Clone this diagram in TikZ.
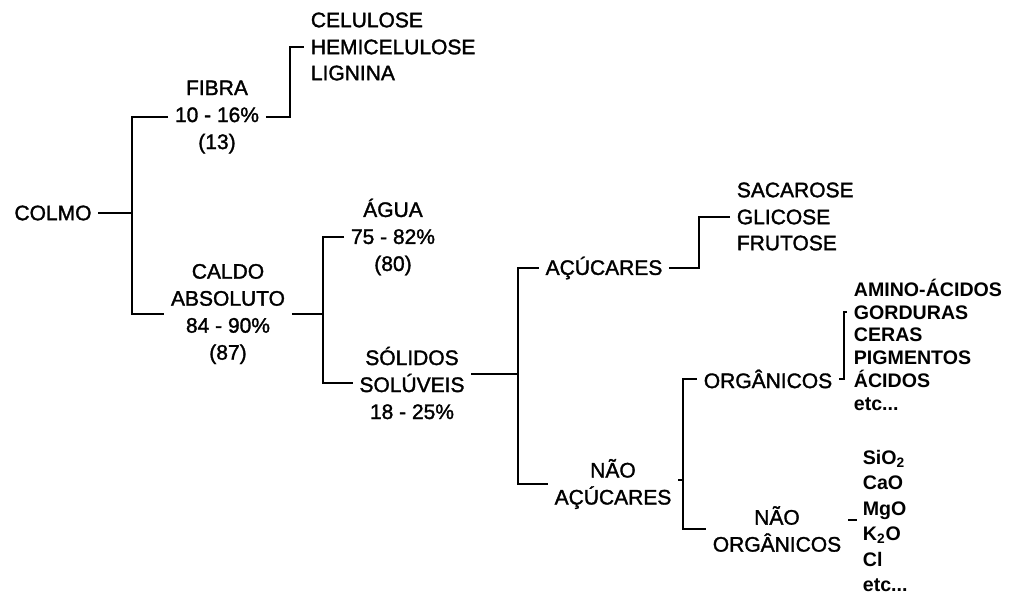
\documentclass[tikz,border=0pt]{standalone}
\usepackage{fontspec}
\setmainfont{Liberation Sans}[UprightFeatures={FakeBold=1.5}]
\usepackage{tikz}

\begin{document}
\begin{tikzpicture}[x=0.5pt,y=-0.5pt, line width=0.9pt,
  every node/.style={font=\fontsize{10.5}{13.5}\selectfont, inner xsep=3pt, inner ysep=1pt, align=center},
  leaf/.style={anchor=west},
  leafb/.style={anchor=west, font=\fontsize{9.8}{12}\selectfont\bfseries, text height=1.6ex, text depth=0.2ex}]
\useasboundingbox (0,0) rectangle (1017,595);
\node (colmo) at (53,213) {COLMO};
\node (fibra) at (217,117) {FIBRA\\10 - 16\%\\(13)};
\node (caldo) at (228,314) {CALDO\\ABSOLUTO\\84 - 90\%\\(87)};
\node (agua) at (393,237) {ÁGUA\\75 - 82\%\\(80)};
\node (solidos) at (412,383) {SÓLIDOS\\SOLÚVEIS\\18 - 25\%};
\node (acucar) at (604,268) {AÇÚCARES};
\node (naoacucar) at (613,484) {NÃO\\AÇÚCARES};
\node (org) at (768,379) {ORGÂNICOS};
\node (naoorg) at (777,529) {NÃO\\ORGÂNICOS};
\node[leaf] (cel) at (304,20) {CELULOSE};
\node[leaf] (hemi) at (304,47) {HEMICELULOSE};
\node[leaf] (lig) at (304,73) {LIGNINA};
\node[leaf] (sac) at (730,190) {SACAROSE};
\node[leaf] (gli) at (730,217) {GLICOSE};
\node[leaf] (fru) at (730,243) {FRUTOSE};
\node[leafb] (amino) at (847,289) {AMINO-ÁCIDOS};
\node[leafb] (gord) at (847,312) {GORDURAS};
\node[leafb] (ceras) at (847,334) {CERAS};
\node[leafb] (pigm) at (847,357) {PIGMENTOS};
\node[leafb] (acid) at (847,380) {ÁCIDOS};
\node[leafb] (etcorg) at (847,403) {etc...};
\node[leafb] (sio) at (856,457) {SiO\textsubscript{2}};
\node[leafb] (cao) at (856,482) {CaO};
\node[leafb] (mgo) at (856,508) {MgO};
\node[leafb] (kdo) at (856,533) {K\textsubscript{2}O};
\node[leafb] (cl) at (856,559) {Cl};
\node[leafb] (etcinorg) at (856,584) {etc...};
\coordinate (k1) at (132,213);
\coordinate (k2) at (290,47);
\coordinate (k3) at (323,314);
\coordinate (k4) at (518,374);
\coordinate (k5) at (699,217);
\coordinate (k6) at (683,480);
\coordinate (k7) at (844,312);
\coordinate (k8) at (857,520);
\draw (colmo.east) -- (k1);
\draw (fibra.west) -| (k1) |- (caldo.west);
\draw (fibra.east) -| (k2) -- (hemi.west);
\draw (caldo.east) -- (k3);
\draw (agua.west) -| (k3) |- (solidos.west);
\draw (solidos.east |- k4) -- (k4);
\draw (acucar.west) -| (k4) |- (naoacucar.west);
\draw (acucar.east) -| (k5) -- (gli.west);
\draw (naoacucar.east |- k6) -- (k6);
\draw (org.west) -| (k6) |- (naoorg.west);
\draw (org.east) -| (k7) -- (gord.west);
\draw (naoorg.east |- k8) -- (k8);
\end{tikzpicture}
\end{document}
